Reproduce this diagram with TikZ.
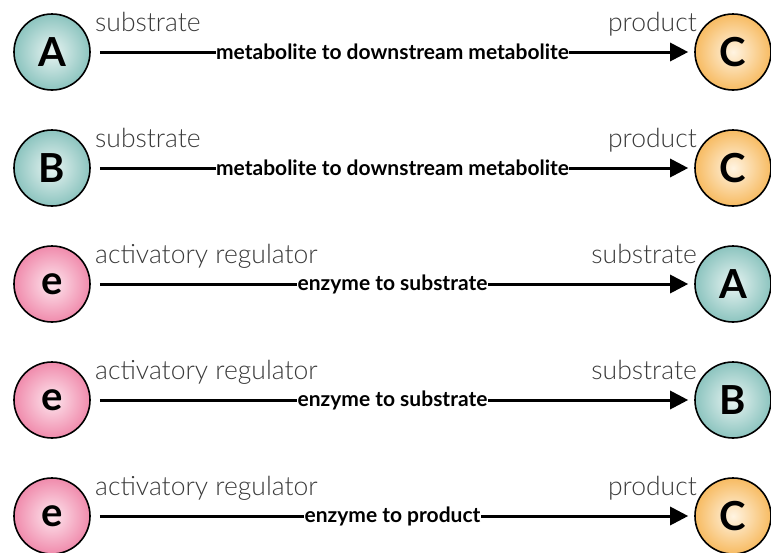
\documentclass[tikz,border=0pt]{standalone}
\usepackage{fontspec}
\setmainfont{Lato}
\newfontfamily\lightfont{Lato Light}
\usetikzlibrary{arrows.meta}
\definecolor{tealout}{HTML}{8CC4BF}
\definecolor{tealin}{HTML}{E8F4F2}
\definecolor{pinkout}{HTML}{F08BAC}
\definecolor{pinkin}{HTML}{FDE6EE}
\definecolor{orout}{HTML}{F7BB62}
\definecolor{orin}{HTML}{FFF4E2}
\definecolor{lbl}{HTML}{3A3A3A}
\tikzset{
  ball/.style={circle, draw=black, line width=1.6pt, minimum size=76pt, inner sep=0pt,
    font=\fontsize{40}{40}\selectfont\bfseries},
  tealball/.style={ball, shading=radial, inner color=tealin, outer color=tealout},
  pinkball/.style={ball, shading=radial, inner color=pinkin, outer color=pinkout},
  orball/.style={ball, shading=radial, inner color=orin, outer color=orout},
  conn/.style={line width=3pt, -{Triangle[length=18pt,width=18pt]}, shorten <=9pt, shorten >=6pt},
  midlbl/.style={fill=white, inner sep=0.5pt, font=\fontsize{21}{21}\selectfont\bfseries},
  rolelbl/.style={text=lbl, inner sep=0pt, font=\fontsize{26.5}{26.5}\lightfont},
}
\begin{document}
\begin{tikzpicture}[x=1pt,y=-1pt]
\useasboundingbox (0,0) rectangle (771,552);
% row 1
\node[tealball] (l1) at (52,52) {A};
\node[orball] (r1) at (733,52) {C};
\draw[conn] (l1) -- node[midlbl] {metabolite to downstream metabolite} (r1);
\node[rolelbl, anchor=base west] (s1) at (95,31) {substrate};
\node[rolelbl, anchor=base east] (p1) at (697,31) {product};
% row 2
\node[tealball] (l2) at (52,168) {B};
\node[orball] (r2) at (733,168) {C};
\draw[conn] (l2) -- node[midlbl] {metabolite to downstream metabolite} (r2);
\node[rolelbl, anchor=base west] (s2) at (95,147) {substrate};
\node[rolelbl, anchor=base east] (p2) at (697,147) {product};
% row 3
\node[pinkball] (l3) at (52,284) {e};
\node[tealball] (r3) at (733,284) {A};
\draw[conn] (l3) -- node[midlbl] {enzyme to substrate} (r3);
\node[rolelbl, anchor=base west] (s3) at (95,263) {activatory regulator};
\node[rolelbl, anchor=base east] (p3) at (697,263) {substrate};
% row 4
\node[pinkball] (l4) at (52,400) {e};
\node[tealball] (r4) at (733,400) {B};
\draw[conn] (l4) -- node[midlbl] {enzyme to substrate} (r4);
\node[rolelbl, anchor=base west] (s4) at (95,379) {activatory regulator};
\node[rolelbl, anchor=base east] (p4) at (697,379) {substrate};
% row 5
\node[pinkball] (l5) at (52,516) {e};
\node[orball] (r5) at (733,516) {C};
\draw[conn] (l5) -- node[midlbl] {enzyme to product} (r5);
\node[rolelbl, anchor=base west] (s5) at (95,495) {activatory regulator};
\node[rolelbl, anchor=base east] (p5) at (697,495) {product};
\end{tikzpicture}
\end{document}
